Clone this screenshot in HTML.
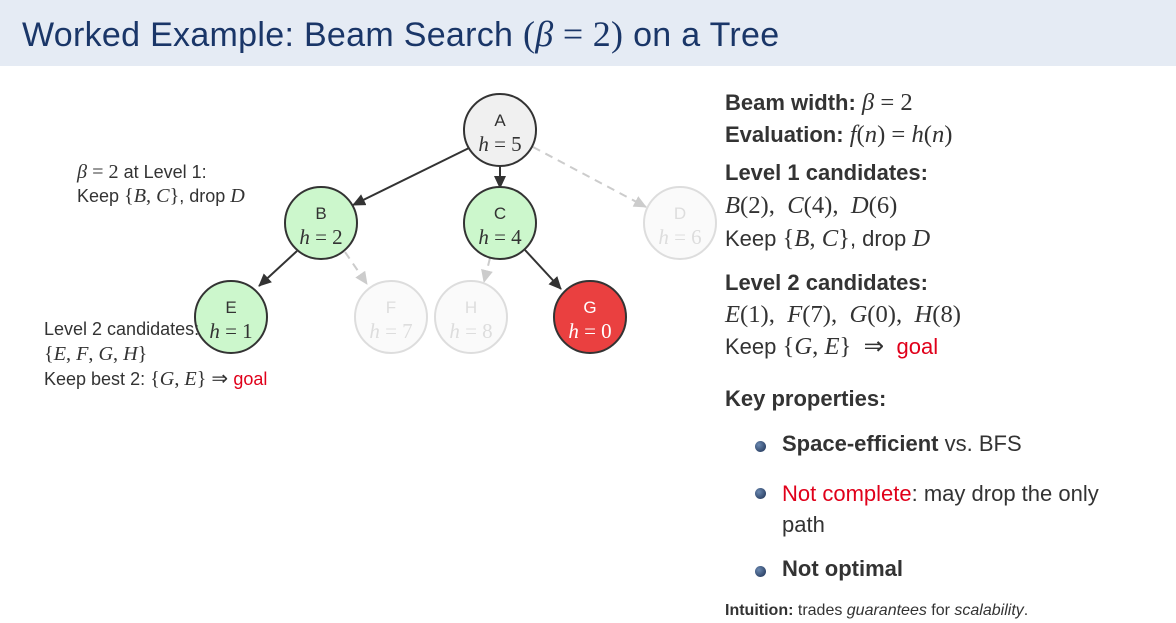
<!DOCTYPE html>
<html><head><meta charset="utf-8"><style>
body{margin:0;width:1176px;height:623px;background:#fff;position:relative;overflow:hidden;font-family:"Liberation Sans",sans-serif;color:#333}
.t{position:absolute;white-space:nowrap}
.m{font-family:"Liberation Serif",serif;font-style:italic;font-size:1.12em}
.r{font-family:"Liberation Serif",serif;font-size:1.12em}
.r .m{font-size:1em}
.red{color:#e0001a}
.b{font-weight:bold}
.dot{position:absolute;width:11px;height:11px;border-radius:50%;background:radial-gradient(circle at 35% 35%,#6a88b0,#1a2d50)}
</style></head><body>
<div style="position:absolute;left:0;top:0;width:1176px;height:66px;background:#e5ebf4"></div>
<div class="t" style="left:22px;top:13px;font-size:34px;color:#1a3668;letter-spacing:0.3px">Worked Example: Beam Search <span class="r" style="font-size:36px">(<i>β</i> = 2)</span> on a Tree</div>

<svg width="1176" height="623" style="position:absolute;left:0;top:0">
<defs>
<marker id="ah" markerWidth="13" markerHeight="12" refX="12" refY="6" orient="auto" markerUnits="userSpaceOnUse" viewBox="0 0 13 12"><path d="M0,0L13,6L0,12z" fill="#333"/></marker>
<marker id="ag" markerWidth="13" markerHeight="12" refX="12" refY="6" orient="auto" markerUnits="userSpaceOnUse" viewBox="0 0 13 12"><path d="M0,0L13,6L0,12z" fill="#ccc"/></marker>
</defs>
<g stroke-width="2" fill="none">
<line x1="469" y1="148" x2="353" y2="205" stroke="#333" marker-end="url(#ah)"/>
<line x1="500" y1="166" x2="500" y2="188" stroke="#333" marker-end="url(#ah)"/>
<line x1="533" y1="147" x2="646" y2="207" stroke="#ccc" stroke-dasharray="8,6" marker-end="url(#ag)"/>
<line x1="297" y1="251" x2="259" y2="286" stroke="#333" marker-end="url(#ah)"/>
<line x1="345" y1="252" x2="367" y2="284" stroke="#ccc" stroke-dasharray="8,6" marker-end="url(#ag)"/>
<line x1="490" y1="258" x2="484" y2="282" stroke="#ccc" stroke-dasharray="8,6" marker-end="url(#ag)"/>
<line x1="525" y1="250" x2="561" y2="289" stroke="#333" marker-end="url(#ah)"/>
</g>
<g stroke-width="2">
<circle cx="500" cy="130" r="36" fill="#f0f0f0" stroke="#333"/>
<circle cx="321" cy="223" r="36" fill="#ccf7cc" stroke="#333"/>
<circle cx="500" cy="223" r="36" fill="#ccf7cc" stroke="#333"/>
<circle cx="680" cy="223" r="36" fill="#fafafa" stroke="#ddd"/>
<circle cx="231" cy="317" r="36" fill="#ccf7cc" stroke="#333"/>
<circle cx="391" cy="317" r="36" fill="#fafafa" stroke="#ddd"/>
<circle cx="471" cy="317" r="36" fill="#fafafa" stroke="#ddd"/>
<circle cx="590" cy="317" r="36" fill="#ea4040" stroke="#333"/>
</g>
<g font-size="17" text-anchor="middle">
<text x="500" y="126" fill="#333" font-family="Liberation Sans">A</text><text x="500" y="151" fill="#333" font-family="Liberation Serif" font-size="21"><tspan font-style="italic">h</tspan> = 5</text>
<text x="321" y="219" fill="#333" font-family="Liberation Sans">B</text><text x="321" y="244" fill="#333" font-family="Liberation Serif" font-size="21"><tspan font-style="italic">h</tspan> = 2</text>
<text x="500" y="219" fill="#333" font-family="Liberation Sans">C</text><text x="500" y="244" fill="#333" font-family="Liberation Serif" font-size="21"><tspan font-style="italic">h</tspan> = 4</text>
<text x="680" y="219" fill="#ddd" font-family="Liberation Sans">D</text><text x="680" y="244" fill="#ddd" font-family="Liberation Serif" font-size="21"><tspan font-style="italic">h</tspan> = 6</text>
<text x="231" y="313" fill="#333" font-family="Liberation Sans">E</text><text x="231" y="338" fill="#333" font-family="Liberation Serif" font-size="21"><tspan font-style="italic">h</tspan> = 1</text>
<text x="391" y="313" fill="#ddd" font-family="Liberation Sans">F</text><text x="391" y="338" fill="#ddd" font-family="Liberation Serif" font-size="21"><tspan font-style="italic">h</tspan> = 7</text>
<text x="471" y="313" fill="#ddd" font-family="Liberation Sans">H</text><text x="471" y="338" fill="#ddd" font-family="Liberation Serif" font-size="21"><tspan font-style="italic">h</tspan> = 8</text>
<text x="590" y="313" fill="#fff" font-family="Liberation Sans">G</text><text x="590" y="338" fill="#fff" font-family="Liberation Serif" font-size="21"><tspan font-style="italic">h</tspan> = 0</text>
</g>
</svg>

<div class="t" style="left:77px;top:160px;font-size:18px;line-height:24px">
<span class="m">β</span> <span class="r">= 2</span> at Level 1:<br>Keep <span class="r">{<i>B</i>, <i>C</i>}</span>, drop <span class="m">D</span></div>
<div class="t" style="left:44px;top:317px;font-size:18px;line-height:25px">
Level 2 candidates:<br><span class="r">{<i>E</i>, <i>F</i>, <i>G</i>, <i>H</i>}</span><br>Keep best 2: <span class="r">{<i>G</i>, <i>E</i>} ⇒</span> <span class="red">goal</span></div>

<div class="t" style="left:725px;top:87px;font-size:22px;line-height:32px">
<span class="b">Beam width:</span> <span class="m">β</span> <span class="r">= 2</span><br>
<span class="b">Evaluation:</span> <span class="r"><i>f</i>(<i>n</i>) = <i>h</i>(<i>n</i>)</span></div>
<div class="t" style="left:725px;top:156px;font-size:22px;line-height:33px">
<span class="b">Level 1 candidates:</span><br>
<span class="r"><i>B</i>(2), &nbsp;<i>C</i>(4), &nbsp;<i>D</i>(6)</span><br>
Keep <span class="r">{<i>B</i>, <i>C</i>}</span>, drop <span class="m">D</span></div>
<div class="t" style="left:725px;top:267px;font-size:22px;line-height:32px">
<span class="b">Level 2 candidates:</span><br>
<span class="r"><i>E</i>(1), &nbsp;<i>F</i>(7), &nbsp;<i>G</i>(0), &nbsp;<i>H</i>(8)</span><br>
Keep <span class="r">{<i>G</i>, <i>E</i>} &nbsp;⇒</span> &nbsp;<span class="red">goal</span></div>
<div class="t b" style="left:725px;top:386px;font-size:22px">Key properties:</div>
<div class="dot" style="left:755px;top:441px"></div>
<div class="t" style="left:782px;top:431px;font-size:22px"><span class="b">Space-efficient</span> vs. BFS</div>
<div class="dot" style="left:755px;top:488px"></div>
<div class="t" style="left:782px;top:478px;font-size:22px;line-height:31px"><span class="red">Not complete</span>: may drop the only<br>path</div>
<div class="dot" style="left:755px;top:566px"></div>
<div class="t b" style="left:782px;top:556px;font-size:22px">Not optimal</div>
<div class="t" style="left:725px;top:602px;font-size:16px"><span class="b">Intuition:</span> trades <i>guarantees</i> for <i>scalability</i>.</div>
</body></html>
